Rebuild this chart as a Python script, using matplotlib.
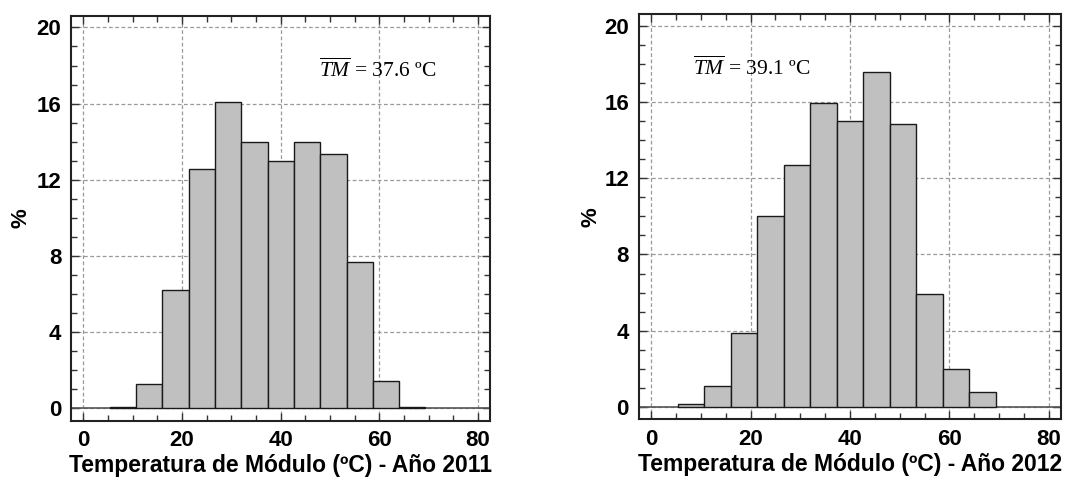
import matplotlib
matplotlib.use("Agg")
import matplotlib.pyplot as plt
from matplotlib.ticker import MultipleLocator
import numpy as np

plt.rcParams['font.family'] = ['Liberation Sans', 'DejaVu Sans']
plt.rcParams['mathtext.fontset'] = 'custom'
plt.rcParams['mathtext.rm'] = 'Liberation Serif'
plt.rcParams['mathtext.it'] = 'Liberation Serif:italic'

bin_edges = [5.33, 10.67, 16.0, 21.33, 26.67, 32.0, 37.33, 42.67, 48.0, 53.33, 58.67, 64.0, 69.33]
pct_2011 = [0.05, 1.26, 6.22, 12.56, 16.11, 14.01, 13.01, 14.01, 13.35, 7.67, 1.45, 0.05]
pct_2012 = [0.16, 1.12, 3.88, 10.0, 12.71, 15.94, 14.98, 17.58, 14.84, 5.94, 2.01, 0.77]
xlabels = ["Temperatura de Módulo (ºC) - Año 2011", "Temperatura de Módulo (ºC) - Año 2012"]
means = ["37.6", "39.1"]
text_x = [47.8, 8.5]

fig = plt.figure(figsize=(10.78, 4.79), dpi=100)
rects = [[0.0659, 0.1217, 0.3886, 0.8449], [0.5925, 0.1246, 0.3915, 0.8455]]
ylab_x = [-0.095, -0.087]
series = [pct_2011, pct_2012]

for i in range(2):
    ax = fig.add_axes(rects[i])
    edges = np.array(bin_edges)
    widths = np.diff(edges)
    ax.bar(edges[:-1], series[i], width=widths, align='edge', color='#c0c0c0',
           edgecolor='#1a1a1a', linewidth=1.0, zorder=3)
    ax.axhline(0, color='#555555', lw=1.2, zorder=2)
    ax.set_xlim(-2.5, 82.4)
    ax.set_ylim(-0.65, 20.6)
    ax.xaxis.set_major_locator(MultipleLocator(20))
    ax.xaxis.set_minor_locator(MultipleLocator(5))
    ax.yaxis.set_major_locator(MultipleLocator(4))
    ax.yaxis.set_minor_locator(MultipleLocator(1))
    ax.tick_params(which='both', direction='in', top=True, right=True, colors='#333333')
    ax.tick_params(which='major', length=5.5, width=1.0, labelsize=16, labelcolor='black', pad=7)
    ax.tick_params(which='minor', length=4.5, width=1.0)
    for lab in ax.get_xticklabels() + ax.get_yticklabels():
        lab.set_fontweight('bold')
    ax.grid(True, which='major', linestyle=(0, (3, 2)), color='#999999', linewidth=0.9, zorder=1)
    for sp in ax.spines.values():
        sp.set_linewidth(1.5)
        sp.set_color('#222222')
    ax.set_xlabel(xlabels[i], fontsize=16.5, fontweight='bold', labelpad=2)
    ax.set_ylabel('%', fontsize=16, fontweight='bold')
    ax.yaxis.set_label_coords(ylab_x[i], 0.5)
    ax.text(text_x[i], 17.4, r'$\overline{TM}$' + ' = ' + means[i] + ' ºC',
            fontsize=15.5, family='Liberation Serif', zorder=4)

fig.savefig('out.png', dpi=100)
